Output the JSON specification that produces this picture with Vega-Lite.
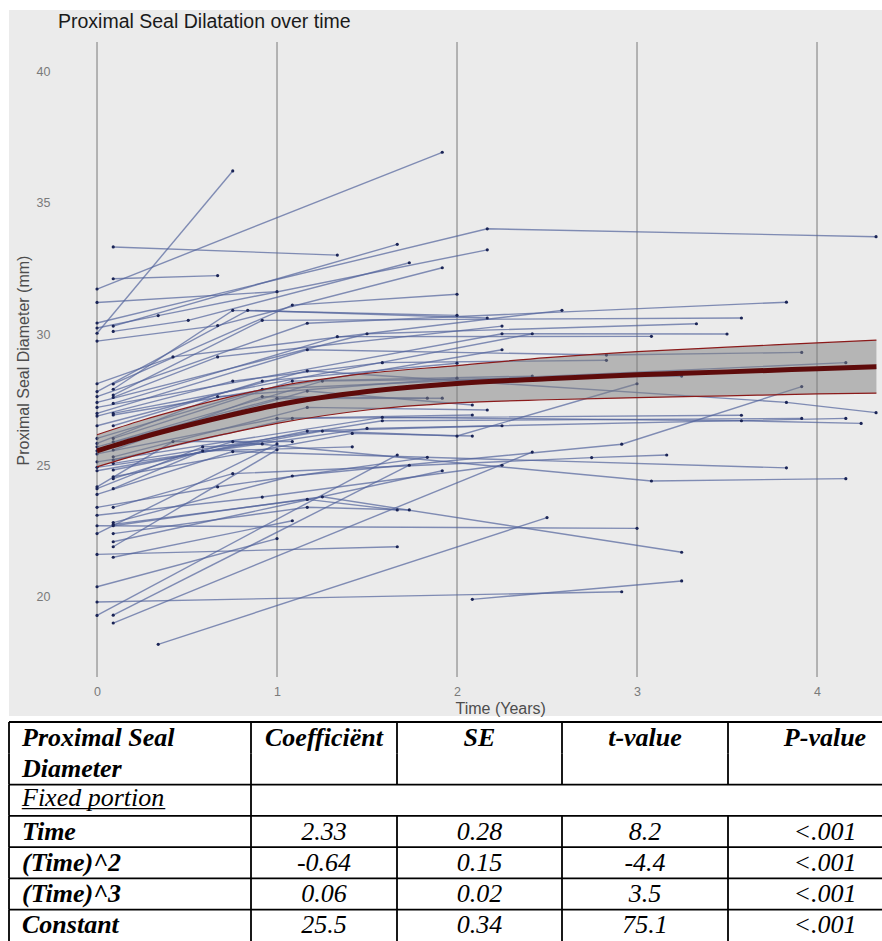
{
  "$schema": "https://vega.github.io/schema/vega-lite/v6.json",
  "padding": {"left": 8, "top": 10, "right": 0, "bottom": 0},
  "background": "white",
  "spacing": 6,
  "bounds": "flush",
  "config": {"view": {"stroke": null}, "font": "Liberation Sans"},
  "datasets": {
    "grid": [{"t": 0}, {"t": 1}, {"t": 2}, {"t": 3}, {"t": 4}],
    "fit": [
      {"t": 0, "est": 25.56, "lo": 24.95, "hi": 26.17},
      {"t": 0.25, "est": 26.07, "lo": 25.45, "hi": 26.72},
      {"t": 0.5, "est": 26.52, "lo": 25.88, "hi": 27.2},
      {"t": 0.75, "est": 26.93, "lo": 26.25, "hi": 27.63},
      {"t": 1, "est": 27.3, "lo": 26.6, "hi": 28.0},
      {"t": 1.5, "est": 27.81, "lo": 27.11, "hi": 28.5},
      {"t": 2, "est": 28.12, "lo": 27.38, "hi": 28.8},
      {"t": 2.5, "est": 28.3, "lo": 27.5, "hi": 29.1},
      {"t": 3, "est": 28.45, "lo": 27.58, "hi": 29.33},
      {"t": 3.5, "est": 28.56, "lo": 27.65, "hi": 29.5},
      {"t": 4, "est": 28.68, "lo": 27.72, "hi": 29.66},
      {"t": 4.33, "est": 28.76, "lo": 27.75, "hi": 29.77}
    ],
    "pts": [
      {"id": 1, "t": 0, "d": 31.71}, {"id": 1, "t": 1.918, "d": 36.91},
      {"id": 2, "t": 0, "d": 30.03}, {"id": 2, "t": 0.754, "d": 36.2},
      {"id": 3, "t": 0.09, "d": 33.31}, {"id": 3, "t": 1.335, "d": 33.0},
      {"id": 4, "t": 0.09, "d": 32.1}, {"id": 4, "t": 0.67, "d": 32.22},
      {"id": 5, "t": 0, "d": 30.42}, {"id": 5, "t": 2.168, "d": 34.0}, {"id": 5, "t": 4.328, "d": 33.7},
      {"id": 6, "t": 0, "d": 30.23}, {"id": 6, "t": 0.34, "d": 30.7}, {"id": 6, "t": 2.168, "d": 33.2},
      {"id": 7, "t": 0.09, "d": 30.3}, {"id": 7, "t": 1.668, "d": 33.41},
      {"id": 8, "t": 0.09, "d": 30.1}, {"id": 8, "t": 0.507, "d": 30.52}, {"id": 8, "t": 1.735, "d": 32.71},
      {"id": 9, "t": 0, "d": 31.2}, {"id": 9, "t": 1.0, "d": 31.61},
      {"id": 10, "t": 0, "d": 29.73}, {"id": 10, "t": 0.67, "d": 30.32}, {"id": 10, "t": 1.918, "d": 32.52},
      {"id": 11, "t": 0.09, "d": 28.1}, {"id": 11, "t": 1.085, "d": 31.1}, {"id": 11, "t": 2.0, "d": 31.51},
      {"id": 12, "t": 0, "d": 28.11}, {"id": 12, "t": 0.422, "d": 29.13}, {"id": 12, "t": 2.583, "d": 30.9},
      {"id": 13, "t": 0.09, "d": 27.9}, {"id": 13, "t": 0.754, "d": 30.9}, {"id": 13, "t": 2.0, "d": 30.71},
      {"id": 14, "t": 0, "d": 27.81}, {"id": 14, "t": 0.837, "d": 30.9}, {"id": 14, "t": 2.168, "d": 30.61},
      {"id": 15, "t": 0.09, "d": 27.68}, {"id": 15, "t": 0.918, "d": 30.52}, {"id": 15, "t": 3.58, "d": 30.61},
      {"id": 16, "t": 0, "d": 27.62}, {"id": 16, "t": 1.168, "d": 30.41}, {"id": 16, "t": 3.83, "d": 31.21},
      {"id": 17, "t": 0.09, "d": 27.59}, {"id": 17, "t": 0.67, "d": 29.13}, {"id": 17, "t": 2.25, "d": 30.3},
      {"id": 18, "t": 0, "d": 27.4}, {"id": 18, "t": 1.5, "d": 30.01}, {"id": 18, "t": 3.33, "d": 30.39},
      {"id": 19, "t": 0.09, "d": 27.36}, {"id": 19, "t": 1.335, "d": 29.9}, {"id": 19, "t": 3.08, "d": 29.91},
      {"id": 20, "t": 0, "d": 27.21}, {"id": 20, "t": 2.25, "d": 30.01}, {"id": 20, "t": 3.5, "d": 30.0},
      {"id": 21, "t": 0.09, "d": 26.98}, {"id": 21, "t": 2.418, "d": 30.01},
      {"id": 22, "t": 0, "d": 26.98}, {"id": 22, "t": 1.168, "d": 29.4}, {"id": 22, "t": 2.83, "d": 29.2}, {"id": 22, "t": 3.915, "d": 29.3},
      {"id": 23, "t": 0.09, "d": 26.92}, {"id": 23, "t": 2.25, "d": 29.4},
      {"id": 24, "t": 0, "d": 26.88}, {"id": 24, "t": 0.754, "d": 28.21}, {"id": 24, "t": 1.585, "d": 28.91}, {"id": 24, "t": 2.83, "d": 29.0},
      {"id": 25, "t": 0.09, "d": 26.51}, {"id": 25, "t": 0.918, "d": 28.21}, {"id": 25, "t": 2.0, "d": 28.89},
      {"id": 26, "t": 0, "d": 26.51}, {"id": 26, "t": 1.168, "d": 28.6}, {"id": 26, "t": 3.83, "d": 27.4}, {"id": 26, "t": 4.328, "d": 27.01},
      {"id": 27, "t": 0.09, "d": 26.03}, {"id": 27, "t": 1.085, "d": 28.21}, {"id": 27, "t": 2.418, "d": 28.4},
      {"id": 28, "t": 0, "d": 26.03}, {"id": 28, "t": 0.918, "d": 27.9}, {"id": 28, "t": 4.16, "d": 28.91},
      {"id": 29, "t": 0.09, "d": 25.9}, {"id": 29, "t": 1.252, "d": 28.21}, {"id": 29, "t": 3.248, "d": 28.4},
      {"id": 30, "t": 0, "d": 25.84}, {"id": 30, "t": 0.67, "d": 27.62}, {"id": 30, "t": 2.0, "d": 28.32},
      {"id": 31, "t": 0.09, "d": 25.59}, {"id": 31, "t": 0.918, "d": 27.62}, {"id": 31, "t": 1.835, "d": 27.56},
      {"id": 32, "t": 0, "d": 25.71}, {"id": 32, "t": 1.0, "d": 27.55}, {"id": 32, "t": 1.918, "d": 27.56},
      {"id": 33, "t": 0, "d": 25.56}, {"id": 33, "t": 1.168, "d": 27.83}, {"id": 33, "t": 2.085, "d": 27.3},
      {"id": 34, "t": 0.09, "d": 25.33}, {"id": 34, "t": 1.168, "d": 27.21}, {"id": 34, "t": 2.168, "d": 27.11},
      {"id": 35, "t": 0, "d": 25.44}, {"id": 35, "t": 1.0, "d": 26.79}, {"id": 35, "t": 2.085, "d": 26.92},
      {"id": 36, "t": 0.09, "d": 25.21}, {"id": 36, "t": 1.085, "d": 26.79}, {"id": 36, "t": 3.58, "d": 26.91},
      {"id": 37, "t": 0, "d": 25.14}, {"id": 37, "t": 1.585, "d": 26.83}, {"id": 37, "t": 3.58, "d": 26.7}, {"id": 37, "t": 4.245, "d": 26.6},
      {"id": 38, "t": 0.09, "d": 25.08}, {"id": 38, "t": 1.585, "d": 26.7}, {"id": 38, "t": 3.915, "d": 26.79},
      {"id": 39, "t": 0, "d": 24.93}, {"id": 39, "t": 1.5, "d": 26.41}, {"id": 39, "t": 4.16, "d": 26.79},
      {"id": 40, "t": 0.09, "d": 24.83}, {"id": 40, "t": 1.168, "d": 26.31}, {"id": 40, "t": 2.25, "d": 26.51},
      {"id": 41, "t": 0, "d": 24.8}, {"id": 41, "t": 1.252, "d": 26.31}, {"id": 41, "t": 2.0, "d": 26.12}, {"id": 41, "t": 3.0, "d": 28.11},
      {"id": 42, "t": 0.09, "d": 24.57}, {"id": 42, "t": 1.418, "d": 26.22}, {"id": 42, "t": 2.085, "d": 26.12},
      {"id": 43, "t": 0, "d": 24.19}, {"id": 43, "t": 0.422, "d": 25.91}, {"id": 43, "t": 1.085, "d": 25.91},
      {"id": 44, "t": 0.09, "d": 24.5}, {"id": 44, "t": 0.754, "d": 25.91}, {"id": 44, "t": 3.08, "d": 24.41}, {"id": 44, "t": 4.16, "d": 24.5},
      {"id": 45, "t": 0, "d": 24.12}, {"id": 45, "t": 0.587, "d": 25.71}, {"id": 45, "t": 0.918, "d": 25.82},
      {"id": 46, "t": 0.09, "d": 24.12}, {"id": 46, "t": 0.587, "d": 25.55}, {"id": 46, "t": 1.418, "d": 25.71},
      {"id": 47, "t": 0, "d": 23.9}, {"id": 47, "t": 0.754, "d": 25.53}, {"id": 47, "t": 3.83, "d": 24.91},
      {"id": 48, "t": 0.09, "d": 23.41}, {"id": 48, "t": 0.754, "d": 24.69}, {"id": 48, "t": 2.748, "d": 25.3}, {"id": 48, "t": 3.165, "d": 25.4},
      {"id": 49, "t": 0, "d": 23.41}, {"id": 49, "t": 0.67, "d": 24.19}, {"id": 49, "t": 1.835, "d": 25.31},
      {"id": 50, "t": 0.09, "d": 22.83}, {"id": 50, "t": 1.085, "d": 24.6}, {"id": 50, "t": 2.915, "d": 25.81}, {"id": 50, "t": 3.915, "d": 28.0},
      {"id": 51, "t": 0, "d": 23.11}, {"id": 51, "t": 0.918, "d": 23.8}, {"id": 51, "t": 2.25, "d": 25.01},
      {"id": 52, "t": 0.09, "d": 22.76}, {"id": 52, "t": 1.168, "d": 23.71}, {"id": 52, "t": 1.668, "d": 23.31},
      {"id": 53, "t": 0, "d": 22.71}, {"id": 53, "t": 3.0, "d": 22.61},
      {"id": 54, "t": 0.09, "d": 22.71}, {"id": 54, "t": 1.252, "d": 23.81}, {"id": 54, "t": 3.248, "d": 21.7},
      {"id": 55, "t": 0, "d": 21.62}, {"id": 55, "t": 1.668, "d": 21.91},
      {"id": 56, "t": 0.09, "d": 22.41}, {"id": 56, "t": 1.168, "d": 23.41}, {"id": 56, "t": 1.735, "d": 23.31},
      {"id": 57, "t": 0, "d": 22.41}, {"id": 57, "t": 1.0, "d": 25.82},
      {"id": 58, "t": 0.09, "d": 22.1}, {"id": 58, "t": 1.918, "d": 24.8},
      {"id": 59, "t": 0.09, "d": 21.91}, {"id": 59, "t": 1.0, "d": 25.6},
      {"id": 60, "t": 0, "d": 20.39}, {"id": 60, "t": 1.0, "d": 22.22},
      {"id": 61, "t": 0.09, "d": 21.51}, {"id": 61, "t": 1.085, "d": 22.9},
      {"id": 62, "t": 0, "d": 19.81}, {"id": 62, "t": 2.915, "d": 20.2},
      {"id": 63, "t": 0, "d": 19.3}, {"id": 63, "t": 1.668, "d": 25.4},
      {"id": 64, "t": 0.09, "d": 19.31}, {"id": 64, "t": 1.735, "d": 25.01},
      {"id": 65, "t": 0.09, "d": 19.01}, {"id": 65, "t": 2.418, "d": 25.51},
      {"id": 66, "t": 0.34, "d": 18.2}, {"id": 66, "t": 2.5, "d": 23.02},
      {"id": 67, "t": 2.085, "d": 19.91}, {"id": 67, "t": 3.248, "d": 20.61}
    ],
    "cells": [
      {"col": 1, "row": "h1", "text": "Proximal Seal"},
      {"col": 1, "row": "h2", "text": "Diameter"},
      {"col": 1, "row": "fixed", "text": "Fixed portion"},
      {"col": 1, "row": "time", "text": "Time"},
      {"col": 1, "row": "t2", "text": "(Time)^2"},
      {"col": 1, "row": "t3", "text": "(Time)^3"},
      {"col": 1, "row": "const", "text": "Constant"},
      {"col": 2, "row": "h1", "text": "Coefficiënt"},
      {"col": 2, "row": "time", "text": "2.33"},
      {"col": 2, "row": "t2", "text": "-0.64"},
      {"col": 2, "row": "t3", "text": "0.06"},
      {"col": 2, "row": "const", "text": "25.5"},
      {"col": 3, "row": "h1", "text": "SE"},
      {"col": 3, "row": "time", "text": "0.28"},
      {"col": 3, "row": "t2", "text": "0.15"},
      {"col": 3, "row": "t3", "text": "0.02"},
      {"col": 3, "row": "const", "text": "0.34"},
      {"col": 4, "row": "h1", "text": "t-value"},
      {"col": 4, "row": "time", "text": "8.2"},
      {"col": 4, "row": "t2", "text": "-4.4"},
      {"col": 4, "row": "t3", "text": "3.5"},
      {"col": 4, "row": "const", "text": "75.1"},
      {"col": 5, "row": "h1", "text": "P-value"},
      {"col": 5, "row": "time", "text": "<.001"},
      {"col": 5, "row": "t2", "text": "<.001"},
      {"col": 5, "row": "t3", "text": "<.001"},
      {"col": 5, "row": "const", "text": "<.001"}
    ],
    "hlines": [{"row": "h1"}, {"row": "fixed"}, {"row": "time"}, {"row": "t2"}, {"row": "t3"}, {"row": "const"}],
    "vlines": [
      {"col": 1, "row": "h1"}, {"col": 1, "row": "h2"}, {"col": 1, "row": "fixed"}, {"col": 1, "row": "time"}, {"col": 1, "row": "t2"}, {"col": 1, "row": "t3"}, {"col": 1, "row": "const"},
      {"col": 2, "row": "h1"}, {"col": 2, "row": "h2"}, {"col": 2, "row": "fixed"}, {"col": 2, "row": "time"}, {"col": 2, "row": "t2"}, {"col": 2, "row": "t3"}, {"col": 2, "row": "const"},
      {"col": 3, "row": "h1"}, {"col": 3, "row": "h2"}, {"col": 3, "row": "time"}, {"col": 3, "row": "t2"}, {"col": 3, "row": "t3"}, {"col": 3, "row": "const"},
      {"col": 4, "row": "h1"}, {"col": 4, "row": "h2"}, {"col": 4, "row": "time"}, {"col": 4, "row": "t2"}, {"col": 4, "row": "t3"}, {"col": 4, "row": "const"},
      {"col": 5, "row": "h1"}, {"col": 5, "row": "h2"}, {"col": 5, "row": "time"}, {"col": 5, "row": "t2"}, {"col": 5, "row": "t3"}, {"col": 5, "row": "const"}
    ]
  },
  "vconcat": [
    {
      "width": 873,
      "height": 706,
      "view": {"fill": "#ebebeb", "stroke": null},
      "title": {"text": "Proximal Seal Dilatation over time", "anchor": "start", "frame": "group", "font": "Liberation Sans", "fontSize": 19.5, "fontWeight": "normal", "color": "#1a1a1a", "offset": -22, "dx": 49, "dy": 0, "baseline": "top"},
      "layer": [
        {
          "data": {"name": "grid"},
          "mark": {"type": "rule", "color": "#a3a3a3", "strokeWidth": 1.6},
          "encoding": {
            "x": {"field": "t", "type": "quantitative", "title": "Time (Years)",
              "scale": {"domain": [-0.489, 4.361], "nice": false, "zero": false},
              "axis": {"orient": "bottom", "offset": -31, "domain": false, "ticks": false, "tickSize": 0, "labelPadding": 0, "grid": false, "values": [0, 1, 2, 3, 4], "format": "d", "labelFont": "Liberation Sans", "labelFontSize": 12.5, "labelColor": "#7a7a7a", "labelFlush": false, "titleFont": "Liberation Sans", "titleFontSize": 16, "titleFontWeight": "normal", "titleColor": "#4d4d4d", "titleX": 446, "titleY": 23, "titleAlign": "left", "titleBaseline": "middle", "titleAnchor": "start"}},
            "y": {"datum": 41.1, "type": "quantitative", "title": "Proximal Seal Diameter (mm)",
              "scale": {"domain": [15.475, 42.32], "nice": false, "zero": false},
              "axis": {"orient": "left", "offset": -41, "domain": false, "ticks": false, "tickSize": 0, "labelPadding": 0, "grid": false, "values": [20, 25, 30, 35, 40], "labelFont": "Liberation Sans", "labelFontSize": 12.5, "labelColor": "#7a7a7a", "titleFont": "Liberation Sans", "titleFontSize": 16, "titleFontWeight": "normal", "titleColor": "#4d4d4d", "titleX": -27, "titleY": 350, "titleAngle": 270, "titleAlign": "center", "titleBaseline": "middle"}},
            "y2": {"datum": 16.96}
          }
        },
        {
          "data": {"name": "pts"},
          "mark": {"type": "line", "color": "#51629b", "opacity": 0.7, "strokeWidth": 1.4},
          "encoding": {
            "x": {"field": "t", "type": "quantitative", "title": "Time (Years)"},
            "y": {"field": "d", "type": "quantitative", "title": "Proximal Seal Diameter (mm)"},
            "detail": {"field": "id"},
            "order": {"field": "t"}
          }
        },
        {
          "data": {"name": "pts"},
          "mark": {"type": "circle", "color": "#1a2456", "opacity": 1, "size": 10},
          "encoding": {
            "x": {"field": "t", "type": "quantitative", "title": "Time (Years)"},
            "y": {"field": "d", "type": "quantitative", "title": "Proximal Seal Diameter (mm)"}
          }
        },
        {
          "data": {"name": "fit"},
          "mark": {"type": "area", "color": "#808080", "opacity": 0.5, "interpolate": "monotone"},
          "encoding": {
            "x": {"field": "t", "type": "quantitative", "title": "Time (Years)"},
            "y": {"field": "lo", "type": "quantitative", "title": "Proximal Seal Diameter (mm)"},
            "y2": {"field": "hi"}
          }
        },
        {
          "data": {"name": "fit"},
          "mark": {"type": "line", "color": "#8b1a1a", "strokeWidth": 1.2, "interpolate": "monotone"},
          "encoding": {
            "x": {"field": "t", "type": "quantitative", "title": "Time (Years)"},
            "y": {"field": "lo", "type": "quantitative", "title": "Proximal Seal Diameter (mm)"}
          }
        },
        {
          "data": {"name": "fit"},
          "mark": {"type": "line", "color": "#8b1a1a", "strokeWidth": 1.2, "interpolate": "monotone"},
          "encoding": {
            "x": {"field": "t", "type": "quantitative", "title": "Time (Years)"},
            "y": {"field": "hi", "type": "quantitative", "title": "Proximal Seal Diameter (mm)"}
          }
        },
        {
          "data": {"name": "fit"},
          "mark": {"type": "line", "color": "#5e0b0b", "strokeWidth": 5, "interpolate": "monotone"},
          "encoding": {
            "x": {"field": "t", "type": "quantitative", "title": "Time (Years)"},
            "y": {"field": "est", "type": "quantitative", "title": "Proximal Seal Diameter (mm)"}
          }
        }
      ]
    },
    {
      "hconcat": [
        {
          "width": 242, "height": 219,
          "layer": [
            {"data": {"name": "hlines"}, "mark": {"type": "rule", "color": "black", "strokeWidth": 1.8},
             "encoding": {"y": {"field": "row", "type": "nominal", "bandPosition": 0, "scale": {"type": "band", "domain": ["h1", "h2", "fixed", "time", "t2", "t3", "const"], "paddingInner": 0, "paddingOuter": 0}, "axis": null}}},
            {"data": {"name": "vlines"}, "transform": [{"filter": "datum.col == 1"}], "mark": {"type": "rule", "color": "black", "strokeWidth": 1.8},
             "encoding": {"x": {"value": 0}, "y": {"field": "row", "type": "nominal", "bandPosition": 0, "axis": null}, "y2": {"field": "row", "bandPosition": 1}}},
            {"data": {"name": "cells"}, "transform": [{"filter": "datum.col == 1 && datum.row != 'fixed'"}],
             "mark": {"type": "text", "font": "Liberation Serif", "fontSize": 26, "fontStyle": "italic", "fontWeight": "bold", "align": "left", "color": "black"},
             "encoding": {"x": {"value": 13}, "y": {"field": "row", "type": "nominal", "axis": null}, "text": {"field": "text"}}},
            {"data": {"name": "cells"}, "transform": [{"filter": "datum.col == 1 && datum.row == 'fixed'"}],
             "mark": {"type": "text", "font": "Liberation Serif", "fontSize": 26, "fontStyle": "italic", "fontWeight": "normal", "align": "left", "dy": -2, "color": "black"},
             "encoding": {"x": {"value": 13}, "y": {"field": "row", "type": "nominal", "axis": null}, "text": {"field": "text"}}},
            {"data": {"name": "cells"}, "transform": [{"filter": "datum.col == 1 && datum.row == 'fixed'"}],
             "mark": {"type": "text", "font": "Liberation Serif", "fontSize": 26, "fontStyle": "italic", "fontWeight": "normal", "align": "left", "dy": -2, "color": "black"},
             "encoding": {"x": {"value": 13}, "y": {"field": "row", "type": "nominal", "axis": null}, "text": {"value": "___________"}}}
          ]
        },
        {
          "width": 146, "height": 219,
          "layer": [
            {"data": {"name": "hlines"}, "mark": {"type": "rule", "color": "black", "strokeWidth": 1.8},
             "encoding": {"y": {"field": "row", "type": "nominal", "bandPosition": 0, "scale": {"type": "band", "domain": ["h1", "h2", "fixed", "time", "t2", "t3", "const"], "paddingInner": 0, "paddingOuter": 0}, "axis": null}}},
            {"data": {"name": "vlines"}, "transform": [{"filter": "datum.col == 2"}], "mark": {"type": "rule", "color": "black", "strokeWidth": 1.8},
             "encoding": {"x": {"value": 0}, "y": {"field": "row", "type": "nominal", "bandPosition": 0, "axis": null}, "y2": {"field": "row", "bandPosition": 1}}},
            {"data": {"name": "cells"}, "transform": [{"filter": "datum.col == 2 && datum.row == 'h1'"}],
             "mark": {"type": "text", "font": "Liberation Serif", "fontSize": 26, "fontStyle": "italic", "fontWeight": "bold", "align": "center", "color": "black"},
             "encoding": {"y": {"field": "row", "type": "nominal", "axis": null}, "text": {"field": "text"}}},
            {"data": {"name": "cells"}, "transform": [{"filter": "datum.col == 2 && datum.row != 'h1'"}],
             "mark": {"type": "text", "font": "Liberation Serif", "fontSize": 26, "fontStyle": "italic", "fontWeight": "normal", "align": "center", "color": "black"},
             "encoding": {"y": {"field": "row", "type": "nominal", "axis": null}, "text": {"field": "text"}}}
          ]
        },
        {
          "width": 165, "height": 219,
          "layer": [
            {"data": {"name": "hlines"}, "mark": {"type": "rule", "color": "black", "strokeWidth": 1.8},
             "encoding": {"y": {"field": "row", "type": "nominal", "bandPosition": 0, "scale": {"type": "band", "domain": ["h1", "h2", "fixed", "time", "t2", "t3", "const"], "paddingInner": 0, "paddingOuter": 0}, "axis": null}}},
            {"data": {"name": "vlines"}, "transform": [{"filter": "datum.col == 3"}], "mark": {"type": "rule", "color": "black", "strokeWidth": 1.8},
             "encoding": {"x": {"value": 0}, "y": {"field": "row", "type": "nominal", "bandPosition": 0, "axis": null}, "y2": {"field": "row", "bandPosition": 1}}},
            {"data": {"name": "cells"}, "transform": [{"filter": "datum.col == 3 && datum.row == 'h1'"}],
             "mark": {"type": "text", "font": "Liberation Serif", "fontSize": 26, "fontStyle": "italic", "fontWeight": "bold", "align": "center", "color": "black"},
             "encoding": {"y": {"field": "row", "type": "nominal", "axis": null}, "text": {"field": "text"}}},
            {"data": {"name": "cells"}, "transform": [{"filter": "datum.col == 3 && datum.row != 'h1'"}],
             "mark": {"type": "text", "font": "Liberation Serif", "fontSize": 26, "fontStyle": "italic", "fontWeight": "normal", "align": "center", "color": "black"},
             "encoding": {"y": {"field": "row", "type": "nominal", "axis": null}, "text": {"field": "text"}}}
          ]
        },
        {
          "width": 166, "height": 219,
          "layer": [
            {"data": {"name": "hlines"}, "mark": {"type": "rule", "color": "black", "strokeWidth": 1.8},
             "encoding": {"y": {"field": "row", "type": "nominal", "bandPosition": 0, "scale": {"type": "band", "domain": ["h1", "h2", "fixed", "time", "t2", "t3", "const"], "paddingInner": 0, "paddingOuter": 0}, "axis": null}}},
            {"data": {"name": "vlines"}, "transform": [{"filter": "datum.col == 4"}], "mark": {"type": "rule", "color": "black", "strokeWidth": 1.8},
             "encoding": {"x": {"value": 0}, "y": {"field": "row", "type": "nominal", "bandPosition": 0, "axis": null}, "y2": {"field": "row", "bandPosition": 1}}},
            {"data": {"name": "cells"}, "transform": [{"filter": "datum.col == 4 && datum.row == 'h1'"}],
             "mark": {"type": "text", "font": "Liberation Serif", "fontSize": 26, "fontStyle": "italic", "fontWeight": "bold", "align": "center", "color": "black"},
             "encoding": {"y": {"field": "row", "type": "nominal", "axis": null}, "text": {"field": "text"}}},
            {"data": {"name": "cells"}, "transform": [{"filter": "datum.col == 4 && datum.row != 'h1'"}],
             "mark": {"type": "text", "font": "Liberation Serif", "fontSize": 26, "fontStyle": "italic", "fontWeight": "normal", "align": "center", "color": "black"},
             "encoding": {"y": {"field": "row", "type": "nominal", "axis": null}, "text": {"field": "text"}}}
          ]
        },
        {
          "width": 154, "height": 219,
          "layer": [
            {"data": {"name": "hlines"}, "mark": {"type": "rule", "color": "black", "strokeWidth": 1.8},
             "encoding": {"y": {"field": "row", "type": "nominal", "bandPosition": 0, "scale": {"type": "band", "domain": ["h1", "h2", "fixed", "time", "t2", "t3", "const"], "paddingInner": 0, "paddingOuter": 0}, "axis": null}}},
            {"data": {"name": "vlines"}, "transform": [{"filter": "datum.col == 5"}], "mark": {"type": "rule", "color": "black", "strokeWidth": 1.8},
             "encoding": {"x": {"value": 0}, "y": {"field": "row", "type": "nominal", "bandPosition": 0, "axis": null}, "y2": {"field": "row", "bandPosition": 1}}},
            {"data": {"name": "cells"}, "transform": [{"filter": "datum.col == 5 && datum.row == 'h1'"}],
             "mark": {"type": "text", "font": "Liberation Serif", "fontSize": 26, "fontStyle": "italic", "fontWeight": "bold", "align": "center", "dx": 20, "color": "black"},
             "encoding": {"y": {"field": "row", "type": "nominal", "axis": null}, "text": {"field": "text"}}},
            {"data": {"name": "cells"}, "transform": [{"filter": "datum.col == 5 && datum.row != 'h1'"}],
             "mark": {"type": "text", "font": "Liberation Serif", "fontSize": 26, "fontStyle": "italic", "fontWeight": "normal", "align": "center", "dx": 20, "color": "black"},
             "encoding": {"y": {"field": "row", "type": "nominal", "axis": null}, "text": {"field": "text"}}}
          ]
        }
      ],
      "spacing": 0,
      "bounds": "flush"
    }
  ]
}
